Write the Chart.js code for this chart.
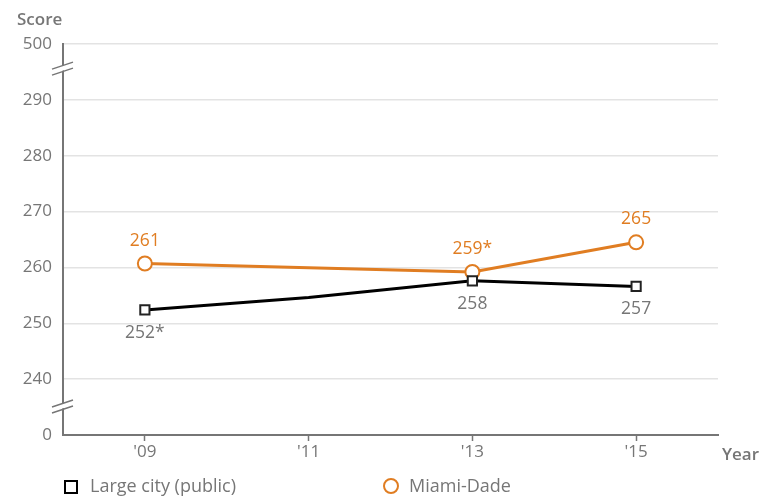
<!DOCTYPE html>
<html>
<head>
<meta charset="utf-8">
<script src="https://cdn.jsdelivr.net/npm/chart.js@4"></script>
<style>
html,body{margin:0;padding:0;background:#fff;}
#wrap{position:relative;width:772px;height:498px;}
</style>
</head>
<body>
<div id="wrap"><canvas id="c" width="772" height="498"></canvas></div>
<script>
// ---- data ----
const years = ["'09", "'11", "'13", "'15"];
const largeCity = [252.4, 254.6, 257.6, 256.6];
const miamiDade = [260.7, null, 259.2, 264.5];
const largeCityLabels = ["252*", "", "258", "257"];
const miamiDadeLabels = ["261", "", "259*", "265"];
const largeCityMarkers = [true, false, true, true];
// axis: internal values 230..300, displayed with break labels
const yTickValues = [230, 240, 250, 260, 270, 280, 290, 300];
const yTickLabels = ["0", "240", "250", "260", "270", "280", "290", "500"];

const ORANGE = '#e07d22';
const GRAY = '#767676';
const FONT = "'Open Sans', 'Noto Sans', sans-serif";

const extras = {
  id: 'extras',
  afterDatasetsDraw(chart) {
    const ctx = chart.ctx;
    const y = chart.scales.y;
    const x0 = y.right;
    ctx.save();
    // axis break marks
    [295.5, 235].forEach(v => {
      const py = y.getPixelForValue(v);
      ctx.fillStyle = '#fff';
      ctx.beginPath();
      ctx.moveTo(x0 - 11, py + 5); ctx.lineTo(x0 + 10, py - 2);
      ctx.lineTo(x0 + 10, py - 7); ctx.lineTo(x0 - 11, py);
      ctx.closePath(); ctx.fill();
      ctx.strokeStyle = GRAY; ctx.lineWidth = 1.5;
      ctx.beginPath();
      ctx.moveTo(x0 - 11, py + 6); ctx.lineTo(x0 + 10, py - 1);
      ctx.moveTo(x0 - 11, py + 0); ctx.lineTo(x0 + 10, py - 7);
      ctx.stroke();
    });
    // data labels
    ctx.font = '17.5px ' + FONT;
    ctx.textAlign = 'center';
    ctx.textBaseline = 'middle';
    const m1 = chart.getDatasetMeta(1);
    m1.data.forEach((pt, i) => {
      if (!miamiDadeLabels[i]) return;
      ctx.fillStyle = ORANGE;
      ctx.fillText(miamiDadeLabels[i], pt.x, pt.y - 23);
    });
    const m0 = chart.getDatasetMeta(0);
    m0.data.forEach((pt, i) => {
      if (!largeCityLabels[i]) return;
      ctx.fillStyle = GRAY;
      ctx.fillText(largeCityLabels[i], pt.x, pt.y + 23);
    });
    // axis titles
    ctx.font = '600 17px ' + FONT;
    ctx.fillStyle = GRAY;
    ctx.textAlign = 'left';
    ctx.fillText('Score', 17, 20);
    ctx.fillText('Year', 722, 455);
    // legend
    ctx.font = '18px ' + FONT;
    ctx.strokeStyle = '#000'; ctx.lineWidth = 2; ctx.fillStyle = '#fff';
    ctx.fillRect(65, 481, 12, 12); ctx.strokeRect(65, 481, 12, 12);
    ctx.fillStyle = GRAY;
    ctx.fillText('Large city (public)', 90, 487);
    ctx.strokeStyle = ORANGE; ctx.fillStyle = '#fff';
    ctx.beginPath(); ctx.arc(391, 486, 7, 0, Math.PI * 2); ctx.fill(); ctx.stroke();
    ctx.fillStyle = GRAY;
    ctx.fillText('Miami-Dade', 409, 487);
    ctx.restore();
  }
};

new Chart(document.getElementById('c'), {
  type: 'line',
  data: {
    labels: years,
    datasets: [
      {
        label: 'Large city (public)',
        data: largeCity,
        borderColor: '#000',
        borderWidth: 3,
        pointStyle: 'rect',
        pointRadius: largeCityMarkers.map(m => m ? 6.5 : 0),
        pointBackgroundColor: '#fff',
        pointBorderColor: '#222',
        pointBorderWidth: 2,
        tension: 0
      },
      {
        label: 'Miami-Dade',
        data: miamiDade,
        borderColor: ORANGE,
        borderWidth: 3,
        pointStyle: 'circle',
        pointRadius: 7,
        pointBackgroundColor: '#fff',
        pointBorderColor: ORANGE,
        pointBorderWidth: 2,
        spanGaps: true,
        tension: 0
      }
    ]
  },
  options: {
    responsive: false,
    animation: false,
    events: [],
    layout: { padding: { top: 44, right: 54, bottom: 0, left: 0 } },
    plugins: { legend: { display: false }, tooltip: { enabled: false } },
    scales: {
      x: {
        offset: true,
        afterFit(s) { s.height = 63; },
        grid: {
          display: true, drawOnChartArea: false, drawTicks: true,
          tickLength: 6, tickColor: GRAY, tickWidth: 1.5, offset: false
        },
        border: { display: true, color: GRAY, width: 2 },
        ticks: { color: GRAY, font: { family: FONT, size: 17 }, padding: 1 }
      },
      y: {
        min: 230, max: 300,
        afterFit(s) { s.width = 63; },
        afterBuildTicks(s) { s.ticks = yTickValues.map(v => ({ value: v })); },
        grid: {
          color: ctx => (ctx.tick && ctx.tick.value === 230) ? 'rgba(0,0,0,0)' : '#e3e3e3',
          lineWidth: 1.5, drawTicks: false
        },
        border: { display: true, color: GRAY, width: 2 },
        ticks: {
          color: GRAY, font: { family: FONT, size: 17 }, padding: 11,
          callback: (v) => { const i = yTickValues.indexOf(v); return i >= 0 ? yTickLabels[i] : ''; }
        }
      }
    }
  },
  plugins: [extras]
});
</script>
</body>
</html>
